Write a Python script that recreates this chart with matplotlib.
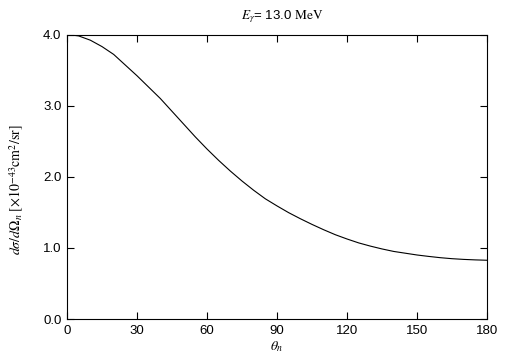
import matplotlib
matplotlib.use("Agg")
import matplotlib.pyplot as plt
from matplotlib.ticker import FormatStrFormatter

theta = [0, 5, 10, 15, 20, 25, 30, 35, 40, 45, 50, 55, 60, 65, 70, 75, 80, 85, 90,
         95, 100, 105, 110, 115, 120, 125, 130, 135, 140, 145, 150, 155, 160, 165, 170, 175, 180]
xsec = [4.00, 3.98, 3.92, 3.83, 3.72, 3.57, 3.42, 3.26, 3.10, 2.92, 2.74, 2.56, 2.39, 2.23, 2.08,
        1.94, 1.81, 1.69, 1.59, 1.495, 1.41, 1.33, 1.255, 1.185, 1.125, 1.07, 1.025, 0.985, 0.95,
        0.925, 0.90, 0.88, 0.862, 0.848, 0.838, 0.831, 0.826]
xticks = [0, 30, 60, 90, 120, 150, 180]
yticks = [0.0, 1.0, 2.0, 3.0, 4.0]

plt.rcParams['mathtext.fontset'] = 'stix'
plt.rcParams['font.family'] = ['Liberation Sans', 'DejaVu Sans']

fig = plt.figure(figsize=(5.05, 3.61), dpi=100)
ax = fig.add_axes([67/505, 1-319/361, 420/505, (319-34.5)/361])
ax.plot(theta, xsec, color='black', lw=0.8)
ax.set_xlim(0, 180)
ax.set_ylim(0, 4.0)
ax.set_xticks(xticks)
ax.set_yticks(yticks)
ax.yaxis.set_major_formatter(FormatStrFormatter('%.1f'))
ax.tick_params(direction='in', top=True, right=True, length=5, width=0.8,
               labelsize=9.5, pad=4)
for s in ax.spines.values():
    s.set_linewidth(0.8)
ax.set_xlabel(r'$\theta_n$', fontsize=10, labelpad=2)
ax.set_ylabel(r'$d\sigma/d\Omega_n\ [\times10^{-43}\mathrm{cm}^2/\mathrm{sr}]$', fontsize=10)
ax.yaxis.set_label_coords(-0.098, (319-190)/284.5)
ax.set_title(r'$E_\gamma$= 13.0 $\mathrm{MeV}$', fontsize=9.5, pad=11, x=0.513)
fig.savefig('out.png', dpi=100)
